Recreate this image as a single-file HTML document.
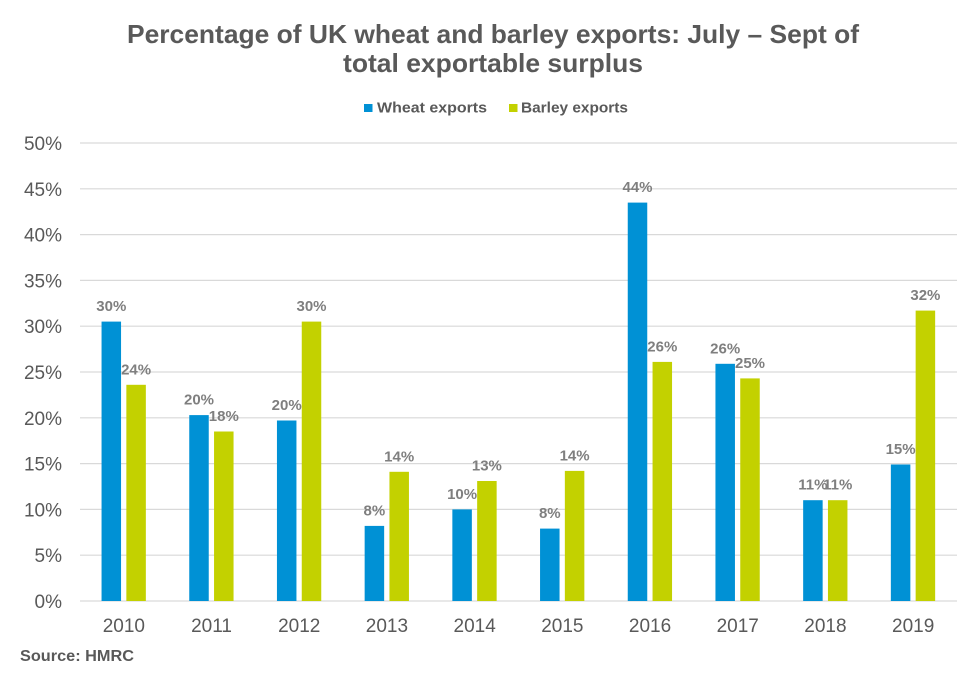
<!DOCTYPE html>
<html><head><meta charset="utf-8"><style>
html,body{margin:0;padding:0;background:#fff;}
svg{display:block;}
text{font-family:"Liberation Sans",Arial,sans-serif;}
</style></head><body>
<svg width="966" height="677" viewBox="0 0 966 677" xmlns="http://www.w3.org/2000/svg">
<rect width="966" height="677" fill="#fff"/>
<text x="127" y="43" font-size="26" font-weight="bold" fill="#595959" textLength="732" lengthAdjust="spacingAndGlyphs">Percentage of UK wheat and barley exports: July – Sept of</text>
<text x="343" y="72" font-size="26" font-weight="bold" fill="#595959" textLength="300" lengthAdjust="spacingAndGlyphs">total exportable surplus</text>
<rect x="364" y="104" width="8.5" height="8" fill="#0091d5"/>
<text x="377" y="112.5" font-size="15" font-weight="bold" fill="#595959" textLength="110" lengthAdjust="spacingAndGlyphs">Wheat exports</text>
<rect x="509" y="104" width="8.5" height="8" fill="#c3d100"/>
<text x="521" y="112.5" font-size="15" font-weight="bold" fill="#595959" textLength="107" lengthAdjust="spacingAndGlyphs">Barley exports</text>
<g stroke="#d9d9d9" stroke-width="1.2">
<line x1="80" x2="957" y1="601" y2="601"/>
<line x1="80" x2="957" y1="555.2" y2="555.2"/>
<line x1="80" x2="957" y1="509.4" y2="509.4"/>
<line x1="80" x2="957" y1="463.6" y2="463.6"/>
<line x1="80" x2="957" y1="417.8" y2="417.8"/>
<line x1="80" x2="957" y1="372" y2="372"/>
<line x1="80" x2="957" y1="326.2" y2="326.2"/>
<line x1="80" x2="957" y1="280.4" y2="280.4"/>
<line x1="80" x2="957" y1="234.6" y2="234.6"/>
<line x1="80" x2="957" y1="188.8" y2="188.8"/>
<line x1="80" x2="957" y1="143" y2="143"/>
</g>
<g font-size="19" fill="#595959" text-anchor="end">
<text x="62" y="608">0%</text>
<text x="62" y="562.2">5%</text>
<text x="62" y="516.4">10%</text>
<text x="62" y="470.6">15%</text>
<text x="62" y="424.8">20%</text>
<text x="62" y="379">25%</text>
<text x="62" y="333.2">30%</text>
<text x="62" y="287.4">35%</text>
<text x="62" y="241.6">40%</text>
<text x="62" y="195.8">45%</text>
<text x="62" y="150">50%</text>
</g>
<g id="bars"></g>
<g font-size="19" fill="#595959" text-anchor="middle">
<text x="123.85" y="632">2010</text>
<text x="211.55" y="632">2011</text>
<text x="299.25" y="632">2012</text>
<text x="386.95" y="632">2013</text>
<text x="474.65" y="632">2014</text>
<text x="562.35" y="632">2015</text>
<text x="650.05" y="632">2016</text>
<text x="737.75" y="632">2017</text>
<text x="825.45" y="632">2018</text>
<text x="913.15" y="632">2019</text>
</g>
<!-- wheat bars -->
<g fill="#0091d5">
<rect x="101.55" y="321.6" width="19.5" height="279.4"/>
<rect x="189.25" y="415.1" width="19.5" height="185.9"/>
<rect x="276.95" y="420.5" width="19.5" height="180.5"/>
<rect x="364.65" y="525.9" width="19.5" height="75.1"/>
<rect x="452.35" y="509.4" width="19.5" height="91.6"/>
<rect x="540.05" y="528.6" width="19.5" height="72.4"/>
<rect x="627.75" y="202.6" width="19.5" height="398.4"/>
<rect x="715.45" y="363.8" width="19.5" height="237.2"/>
<rect x="803.15" y="500.2" width="19.5" height="100.8"/>
<rect x="890.85" y="464.5" width="19.5" height="136.5"/>
</g>
<!-- barley bars -->
<g fill="#c3d100">
<rect x="126.35" y="384.8" width="19.5" height="216.2"/>
<rect x="214.05" y="431.5" width="19.5" height="169.5"/>
<rect x="301.75" y="321.6" width="19.5" height="279.4"/>
<rect x="389.45" y="471.8" width="19.5" height="129.2"/>
<rect x="477.15" y="481" width="19.5" height="120"/>
<rect x="564.85" y="470.9" width="19.5" height="130.1"/>
<rect x="652.55" y="361.9" width="19.5" height="239.1"/>
<rect x="740.25" y="378.4" width="19.5" height="222.6"/>
<rect x="827.95" y="500.2" width="19.5" height="100.8"/>
<rect x="915.65" y="310.6" width="19.5" height="290.4"/>
</g>
<g font-size="15" font-weight="bold" fill="#7f7f7f" text-anchor="middle">
<text x="111.3" y="311.1">30%</text>
<text x="199" y="404.6">20%</text>
<text x="286.7" y="410">20%</text>
<text x="374.4" y="515.4">8%</text>
<text x="462.1" y="498.9">10%</text>
<text x="549.8" y="518.1">8%</text>
<text x="637.5" y="192.1">44%</text>
<text x="725.2" y="353.3">26%</text>
<text x="812.9" y="489.7">11%</text>
<text x="900.6" y="454">15%</text>
<text x="136.1" y="374.3">24%</text>
<text x="223.8" y="421">18%</text>
<text x="311.5" y="311.1">30%</text>
<text x="399.2" y="461.3">14%</text>
<text x="486.9" y="470.5">13%</text>
<text x="574.6" y="460.4">14%</text>
<text x="662.3" y="351.4">26%</text>
<text x="750" y="367.9">25%</text>
<text x="837.7" y="489.7">11%</text>
<text x="925.4" y="300.1">32%</text>
</g>
<text x="20" y="661" font-size="15.5" font-weight="bold" fill="#595959" textLength="114" lengthAdjust="spacingAndGlyphs">Source: HMRC</text>
</svg>
</body></html>
